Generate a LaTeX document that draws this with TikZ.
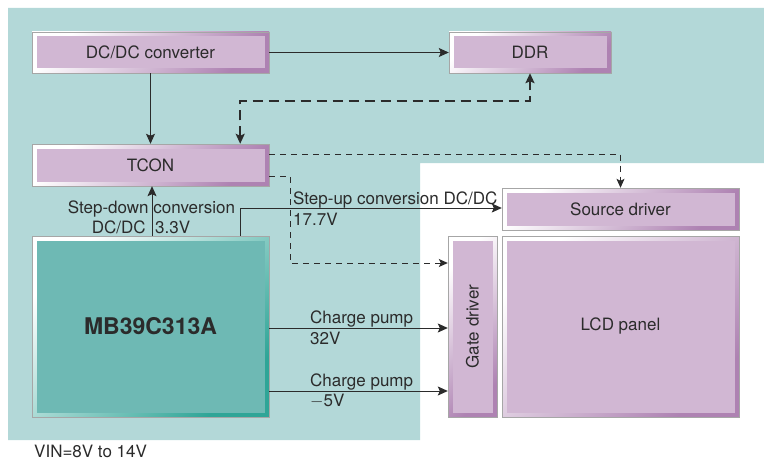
\documentclass[tikz,border=0pt]{standalone}
\usepackage{fontspec}
\setmainfont{TeX Gyre Heros}
\usepackage{tikz}
\usetikzlibrary{arrows.meta}
\definecolor{bgteal}{HTML}{B3D8D8}
\definecolor{chipteal}{HTML}{6EB9B4}
\definecolor{chipedge}{HTML}{2FA597}
\definecolor{boxpink}{HTML}{D1B7D3}
\definecolor{boxedge}{HTML}{AE82B2}
\definecolor{ink}{HTML}{2B2B2B}
\tikzset{
  blk/.style={draw=gray!70,line width=0.4pt,inner sep=0pt,text=ink,
    top color=white,bottom color=#1edge,shading angle=45,
    path picture={\fill[#1fill] ([shift={(4.5pt,-4.5pt)}]path picture bounding box.north west)
      rectangle ([shift={(-4.5pt,4.5pt)}]path picture bounding box.south east);}},
  pinkfill/.style={fill=boxpink},
  tealfill/.style={fill=chipteal},
  lbl/.style={text=ink,inner sep=0pt},
  wire/.style={draw=ink,line width=0.9pt,-{Stealth[length=10pt,width=9pt,inset=2pt]}},
  bus/.style={draw=ink,line width=2.2pt,dash pattern=on 10pt off 6pt,
    {Stealth[length=10pt,width=9pt,inset=2pt]}-{Stealth[length=10pt,width=9pt,inset=2pt]}},
  ctrl/.style={draw=ink,line width=0.9pt,dash pattern=on 6pt off 5pt,-{Stealth[length=9pt,width=8pt,inset=2pt]}}
}
\colorlet{pinkedge}{boxedge}
\colorlet{tealedge}{chipedge}
\begin{document}
\begin{tikzpicture}[x=1pt,y=-1pt,font=\fontsize{17}{20}\selectfont]
\useasboundingbox (0,0) rectangle (764,460);
\fill[white] (0,0) rectangle (764,460);
% background
\fill[bgteal] (8,8) -- (764,8) -- (764,163) -- (420,163) -- (420,440) -- (8,440) -- cycle;
% blocks
\node[blk=pink,minimum width=237pt,minimum height=41pt] (dcdc) at (150.5,52.5) {DC/DC converter};
\node[blk=pink,minimum width=162pt,minimum height=41pt] (ddr) at (530,52.5) {DDR};
\node[blk=pink,minimum width=237pt,minimum height=42pt] (tcon) at (150.5,165) {TCON};
\node[blk=teal,minimum width=237pt,minimum height=181pt,font=\fontsize{23}{27}\selectfont\bfseries] (mb) at (150.5,326.5) {MB39C313A};
\node[blk=pink,minimum width=237pt,minimum height=42pt] (src) at (620.5,209) {Source driver};
\node[blk=pink,minimum width=49pt,minimum height=181pt] (gate) at (472.5,326.5) {};
\node[lbl,rotate=90] (gatetxt) at (gate.center) {Gate driver};
\node[blk=pink,minimum width=237pt,minimum height=181pt] (lcd) at (620.5,326.5) {LCD panel};
% connectors
\draw[wire] (dcdc.east) -- (ddr.west);
\draw[wire] (dcdc.south) -- (tcon.north);
\draw[bus] ([xshift=-29pt]tcon.north east) -- ++(0,-43) -| (ddr.south);
\draw[ctrl] ([yshift=11pt]tcon.east) -| (src.north);
\draw[ctrl] ([yshift=-11pt]tcon.east) -- ++(21,0) |- ([yshift=63.5pt]gate.west);
\draw[wire] ([xshift=1.5pt]mb.north) -- ([xshift=1.5pt]tcon.south);
\draw[wire] ([xshift=-29pt]mb.north east) |- ([yshift=1pt]src.west);
\draw[wire] ([yshift=-1.5pt]mb.east) -- ([yshift=-1.5pt]gate.west);
\draw[wire] ([yshift=-64.5pt]mb.east) -- ([yshift=-64.5pt]gate.west);
% labels
\node[lbl] (dnlbl) at (151.5,209) {Step-down conversion};
\node[lbl] (dnval) at (141,227) {DC/DC\ \ 3.3V};
\node[lbl,anchor=west] (uplbl) at (293,200) {Step-up conversion DC/DC};
\node[lbl,anchor=west] (upval) at (293,219) {17.7V};
\node[lbl,anchor=west] (cp1lbl) at (310,319) {Charge pump};
\node[lbl,anchor=west] (cp1val) at (310,338) {32V};
\node[lbl,anchor=west] (cp2lbl) at (310,382) {Charge pump};
\node[lbl,anchor=west] (cp2val) at (310,401) {$-$5V};
\node[lbl,anchor=west] (vin) at (34,451) {VIN=8V to 14V};
\end{tikzpicture}
\end{document}
